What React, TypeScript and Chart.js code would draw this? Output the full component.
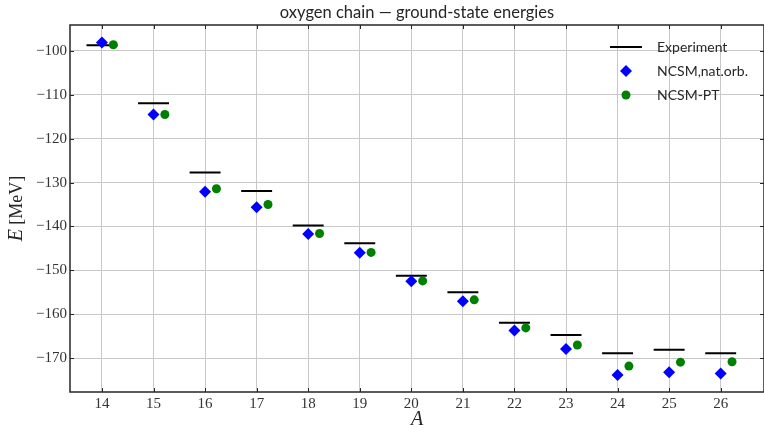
import React, { useEffect, useRef } from "react";
import { Chart, registerables } from "chart.js";

Chart.register(...registerables);

// ---- data ----
const massNumbers = [14, 15, 16, 17, 18, 19, 20, 21, 22, 23, 24, 25, 26];
const experiment = [-98.7, -111.9, -127.7, -131.9, -139.8, -143.8, -151.2, -155.0, -161.9, -164.7, -168.9, -168.1, -168.9];
const ncsmNatOrb = [-98.1, -114.5, -132.1, -135.6, -141.7, -146.0, -152.5, -157.0, -163.7, -167.9, -173.8, -173.2, -173.5];
const ncsmPT = [-98.6, -114.5, -131.4, -135.0, -141.6, -145.9, -152.4, -156.7, -163.1, -167.0, -171.8, -170.9, -170.8];
const xTicks = [14, 15, 16, 17, 18, 19, 20, 21, 22, 23, 24, 25, 26];
const yTicks = [-170, -160, -150, -140, -130, -120, -110, -100];
const seriesLabels = ["Experiment", "NCSM,nat.orb.", "NCSM-PT"];
const titleText = "oxygen chain \u2014 ground-state energies";

// ---- style constants ----
const EXP_HALF_WIDTH = 0.3;
const PT_OFFSET = 0.22;
const GRID = "#c8c8c8";
const AXIS = "#262626";
const TEXT = "#262626";
const SANS = "Lato";
const SERIF = "'Liberation Serif'";

const minus = (v: number) => String(v).replace("-", "\u2212");

const decor = {
  id: "decor",
  afterDraw(chart: any) {
    const { ctx, chartArea: ca } = chart;
    const xs = chart.scales.x;
    const ys = chart.scales.y;
    ctx.save();
    // frame
    ctx.strokeStyle = AXIS;
    ctx.lineWidth = 1.5;
    ctx.strokeRect(ca.left, ca.top, ca.right - ca.left, ca.bottom - ca.top);
    // inward ticks
    ctx.lineWidth = 1;
    ctx.beginPath();
    xTicks.forEach((v) => {
      const px = Math.round(xs.getPixelForValue(v)) + 0.5;
      ctx.moveTo(px, ca.bottom);
      ctx.lineTo(px, ca.bottom - 4);
      ctx.moveTo(px, ca.top);
      ctx.lineTo(px, ca.top + 4);
    });
    yTicks.forEach((v) => {
      const py = Math.round(ys.getPixelForValue(v)) + 0.5;
      ctx.moveTo(ca.left, py);
      ctx.lineTo(ca.left + 4, py);
      ctx.moveTo(ca.right, py);
      ctx.lineTo(ca.right - 4, py);
    });
    ctx.stroke();

    // title
    const mid = (ca.left + 764) / 2;
    ctx.fillStyle = TEXT;
    ctx.font = `16.5px ${SANS}`;
    ctx.textAlign = "center";
    ctx.textBaseline = "middle";
    ctx.fillText(titleText, mid, 13);

    // legend
    const lx = 610;
    const tx = 657;
    const rows = [47, 71, 95];
    ctx.strokeStyle = "#000";
    ctx.lineWidth = 2;
    ctx.beginPath();
    ctx.moveTo(lx, rows[0]);
    ctx.lineTo(lx + 32, rows[0]);
    ctx.stroke();
    ctx.fillStyle = "#0000ff";
    ctx.beginPath();
    ctx.moveTo(lx + 16, rows[1] - 6);
    ctx.lineTo(lx + 22, rows[1]);
    ctx.lineTo(lx + 16, rows[1] + 6);
    ctx.lineTo(lx + 10, rows[1]);
    ctx.closePath();
    ctx.fill();
    ctx.fillStyle = "#008000";
    ctx.beginPath();
    ctx.arc(lx + 16, rows[2], 4.5, 0, Math.PI * 2);
    ctx.fill();
    ctx.fillStyle = TEXT;
    ctx.font = `14px ${SANS}`;
    ctx.textAlign = "left";
    seriesLabels.forEach((s, i) => ctx.fillText(s, tx, rows[i]));

    // x label
    ctx.font = `italic 20px ${SERIF}`;
    ctx.textAlign = "center";
    ctx.fillText("A", mid, 420);

    // y label
    ctx.translate(17, (ca.top + ca.bottom) / 2);
    ctx.rotate(-Math.PI / 2);
    ctx.font = `italic 20px ${SERIF}`;
    const eW = ctx.measureText("E").width;
    ctx.font = `18px ${SERIF}`;
    const rest = " [MeV]";
    const rW = ctx.measureText(rest).width;
    const start = -(eW + rW) / 2;
    ctx.textAlign = "left";
    ctx.font = `italic 20px ${SERIF}`;
    ctx.fillText("E", start, 0);
    ctx.font = `18px ${SERIF}`;
    ctx.fillText(rest, start + eW, 0);
    ctx.restore();
  },
};

export default function App() {
  const ref = useRef<HTMLCanvasElement>(null);
  useEffect(() => {
    if (!ref.current) return;
    const expData: any[] = [];
    massNumbers.forEach((a, i) => {
      expData.push({ x: a - EXP_HALF_WIDTH, y: experiment[i] });
      expData.push({ x: a + EXP_HALF_WIDTH, y: experiment[i] });
      expData.push({ x: a + EXP_HALF_WIDTH, y: null });
    });
    const chart = new Chart(ref.current, {
      type: "scatter",
      data: {
        datasets: [
          {
            type: "line",
            label: seriesLabels[0],
            data: expData,
            borderColor: "#000",
            borderWidth: 2,
            pointRadius: 0,
            showLine: true,
            spanGaps: false,
            order: 3,
          } as any,
          {
            label: seriesLabels[1],
            data: massNumbers.map((a, i) => ({ x: a, y: ncsmNatOrb[i] })),
            pointStyle: "rectRot",
            pointRadius: 6,
            backgroundColor: "#0000ff",
            borderColor: "#0000ff",
            borderWidth: 0,
            order: 2,
          },
          {
            label: seriesLabels[2],
            data: massNumbers.map((a, i) => ({ x: a + PT_OFFSET, y: ncsmPT[i] })),
            pointStyle: "circle",
            pointRadius: 4.5,
            backgroundColor: "#008000",
            borderColor: "#008000",
            borderWidth: 0,
            order: 1,
          },
        ],
      },
      options: {
        animation: false,
        responsive: false,
        events: [],
        layout: { autoPadding: false, padding: { top: 25, right: -3, left: 0, bottom: 0 } },
        plugins: {
          legend: { display: false },
          tooltip: { enabled: false },
          title: { display: false },
        },
        scales: {
          x: {
            type: "linear",
            min: 13.38,
            max: 26.84,
            afterBuildTicks: (s: any) => {
              s.ticks = xTicks.map((v) => ({ value: v }));
            },
            afterFit: (s: any) => {
              s.height = 36;
            },
            grid: { color: GRID, lineWidth: 1, drawTicks: false },
            border: { display: false },
            ticks: {
              padding: 3,
              autoSkip: false,
              maxRotation: 0,
              color: "#333",
              font: { family: SERIF, size: 15 },
              callback: (v: any) => minus(v),
            },
          },
          y: {
            type: "linear",
            min: -177.7,
            max: -94.1,
            afterBuildTicks: (s: any) => {
              s.ticks = yTicks.map((v) => ({ value: v }));
            },
            afterFit: (s: any) => {
              s.width = 70;
            },
            grid: { color: GRID, lineWidth: 1, drawTicks: false },
            border: { display: false },
            ticks: {
              padding: 3,
              autoSkip: false,
              color: "#333",
              font: { family: SERIF, size: 15 },
              callback: (v: any) => minus(v),
            },
          },
        },
      },
      plugins: [decor],
    });
    return () => chart.destroy();
  }, []);
  return (
    <div style={{ position: "fixed", left: 0, top: 0, width: 764, height: 428, background: "#fff", overflow: "hidden" }}>
      <canvas ref={ref} width={764} height={428} style={{ display: "block" }} />
    </div>
  );
}
